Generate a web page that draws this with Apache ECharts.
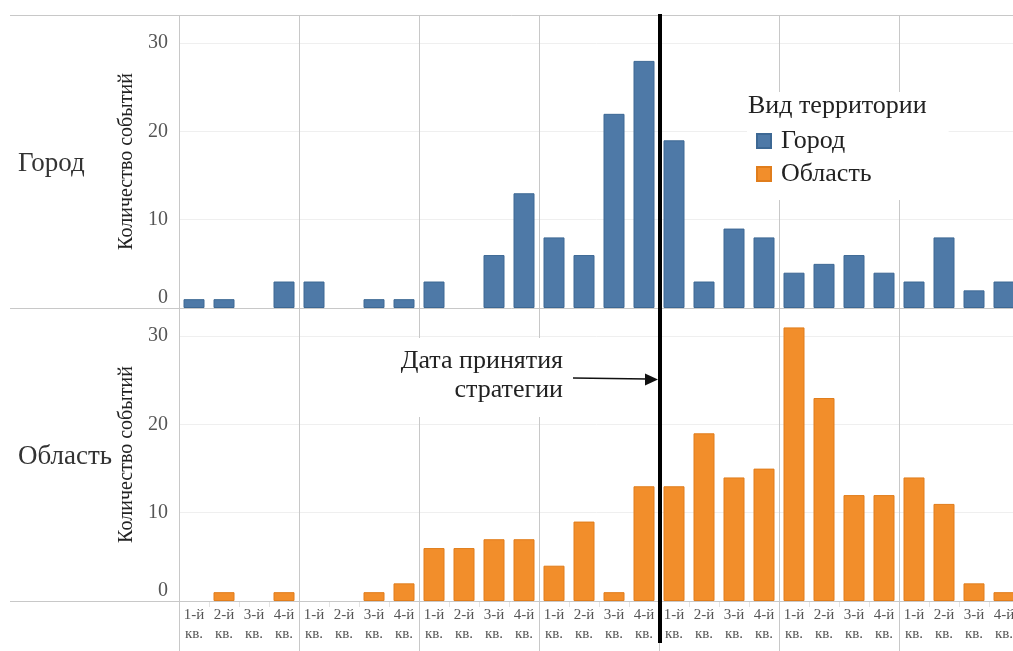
<!DOCTYPE html>
<html><head><meta charset="utf-8">
<script src="https://cdn.jsdelivr.net/npm/echarts@6/dist/echarts.min.js"></script>
<style>html,body{margin:0;padding:0;background:#fff}#c{width:1013px;height:651px}</style>
</head><body><div id="c"></div>
<script>
// ---- data ----
const quarterLabels = ['1-й\nкв.', '2-й\nкв.', '3-й\nкв.', '4-й\nкв.'];
const categories = [
  'Г1К1','Г1К2','Г1К3','Г1К4', 'Г2К1','Г2К2','Г2К3','Г2К4',
  'Г3К1','Г3К2','Г3К3','Г3К4', 'Г4К1','Г4К2','Г4К3','Г4К4',
  'Г5К1','Г5К2','Г5К3','Г5К4', 'Г6К1','Г6К2','Г6К3','Г6К4',
  'Г7К1','Г7К2','Г7К3','Г7К4'
];
const cityValues   = [1,1,0,3, 3,0,1,1, 3,0,6,13, 8,6,22,28, 19,3,9,8, 4,5,6,4, 3,8,2,3];
const regionValues = [0,1,0,1, 0,0,1,2, 6,6,7,7, 4,9,1,13, 13,19,14,15, 31,23,12,12, 14,11,2,1];
const seriesNames = ['Город', 'Область'];
const yTickStep = 10;
const strategyIndex = 16; // first quarter after the strategy was adopted
const annotationText = 'Дата принятия\nстратегии';
const legendTitle = 'Вид территории';
const yAxisTitle = 'Количество событий';

// ---- style ----
const SERIF = '"Liberation Serif", "Times New Roman", serif';
const BLUE = '#4e79a7', BLUE_B = '#3d6894';
const ORANGE = '#f28e2b', ORANGE_B = '#e07d1c';
const SEP = '#c8c8c8', GRID = '#efefef';

const chart = echarts.init(document.getElementById('c'), null, {renderer: 'canvas'});

function yAxis(gi) {
  return {
    gridIndex: gi, type: 'value', min: 0, max: 33.2, interval: yTickStep,
    name: yAxisTitle, nameLocation: 'middle', nameGap: 35,
    nameTextStyle: {fontFamily: SERIF, fontSize: 20, color: '#222'},
    axisLine: {show: false}, axisTick: {show: false},
    axisLabel: {
      fontFamily: SERIF, fontSize: 20, color: '#555', margin: 11, showMaxLabel: false,
      formatter: v => v === 0 ? '{z|0}' : (v % yTickStep === 0 ? String(v) : ''),
      rich: {z: {fontFamily: SERIF, fontSize: 20, color: '#555', padding: [0, 0, 20, 0]}}
    },
    splitLine: {show: true, lineStyle: {color: GRID, width: 1}}
  };
}
const yearSplit = (i) => i % 4 === 0;
const barData = (vals) => vals.map(v => v === 0 ? {value: 0, itemStyle: {borderWidth: 0, opacity: 0}} : v);

const option = {
  animation: false,
  backgroundColor: '#fff',
  title: [
    {text: legendTitle, left: 748, top: 93, padding: 0,
     textStyle: {fontFamily: SERIF, fontSize: 26, fontWeight: 'normal', color: '#222'}},
    {text: seriesNames[0], left: 18, top: 150, padding: 0,
     textStyle: {fontFamily: SERIF, fontSize: 27, fontWeight: 'normal', color: '#333'}},
    {text: seriesNames[1], left: 18, top: 443, padding: 0,
     textStyle: {fontFamily: SERIF, fontSize: 27, fontWeight: 'normal', color: '#333'}}
  ],
  legend: {
    orient: 'vertical', left: 747, top: 92, padding: [36, 77, 13, 9],
    backgroundColor: '#fff', itemWidth: 14, itemHeight: 14, itemGap: 7, icon: 'rect',
    textStyle: {fontFamily: SERIF, fontSize: 26, color: '#222', lineHeight: 22, padding: [0, 0, 0, 5]},
    data: seriesNames
  },
  grid: [
    {left: 179, top: 15, width: 840, height: 293, outerBoundsMode: 'none'},
    {left: 179, top: 308, width: 840, height: 293, outerBoundsMode: 'none'}
  ],
  xAxis: [
    {gridIndex: 0, type: 'category', data: categories,
     axisLine: {show: false}, axisTick: {show: false}, axisLabel: {show: false},
     splitLine: {show: true, interval: yearSplit, lineStyle: {color: SEP}}},
    {gridIndex: 1, type: 'category', data: categories,
     axisLine: {show: false},
     axisTick: {show: true, interval: 0, length: 6, lineStyle: {color: '#e4e4e4'}},
     axisLabel: {interval: 0, fontFamily: SERIF, fontSize: 15, color: '#555', lineHeight: 19, margin: 5,
                 formatter: (v, i) => quarterLabels[i % 4]},
     splitLine: {show: true, interval: yearSplit, lineStyle: {color: SEP}}},
    {gridIndex: 1, type: 'category', data: categories, position: 'bottom',
     axisLine: {show: false}, axisLabel: {show: false}, splitLine: {show: false},
     axisTick: {show: true, interval: yearSplit, length: 50, lineStyle: {color: SEP}}}
  ],
  yAxis: [yAxis(0), yAxis(1)],
  series: [
    {name: seriesNames[0], type: 'bar', xAxisIndex: 0, yAxisIndex: 0, data: barData(cityValues), barWidth: 21,
     itemStyle: {color: BLUE, borderColor: BLUE_B, borderWidth: 1}},
    {name: seriesNames[1], type: 'bar', xAxisIndex: 1, yAxisIndex: 1, data: barData(regionValues), barWidth: 21,
     itemStyle: {color: ORANGE, borderColor: ORANGE_B, borderWidth: 1}}
  ]
};
chart.setOption(option);

// strategy line position from the category scale (boundary between quarters)
const xa = chart.convertToPixel({xAxisIndex: 0}, strategyIndex - 1);
const xb = chart.convertToPixel({xAxisIndex: 0}, strategyIndex);
const sx = (xa + xb) / 2 + 1;
const y0top = chart.convertToPixel({yAxisIndex: 0}, 0);
const y0bot = chart.convertToPixel({yAxisIndex: 1}, 0);

chart.setOption({
  graphic: {elements: [
    {type: 'line', z: 20, shape: {x1: 10, y1: 15.5, x2: 1013, y2: 15.5}, style: {stroke: SEP, lineWidth: 1}},
    {type: 'line', z: 20, shape: {x1: 10, y1: y0top + 0.5, x2: 1013, y2: y0top + 0.5}, style: {stroke: SEP, lineWidth: 1}},
    {type: 'line', z: 20, shape: {x1: 10, y1: y0bot + 0.5, x2: 1013, y2: y0bot + 0.5}, style: {stroke: SEP, lineWidth: 1}},
    {type: 'rect', z: 20, shape: {x: 396, y: 338, width: 172, height: 79}, style: {fill: '#fff'}},
    {type: 'text', z: 21, style: {text: annotationText, x: 563, y: 347, align: 'right', verticalAlign: 'top',
      fontFamily: SERIF, fontSize: 26, lineHeight: 29, fill: '#222'}},
    {type: 'line', z: 21, shape: {x1: 573, y1: 378, x2: 648, y2: 379}, style: {stroke: '#111', lineWidth: 1.5}},
    {type: 'polygon', z: 21, shape: {points: [[645, 373.5], [658, 379.5], [645, 385.5]]}, style: {fill: '#111'}},
    {type: 'line', z: 30, shape: {x1: sx, y1: 14, x2: sx, y2: 643}, style: {stroke: '#000', lineWidth: 4}}
  ]}
});
</script>
</body></html>
